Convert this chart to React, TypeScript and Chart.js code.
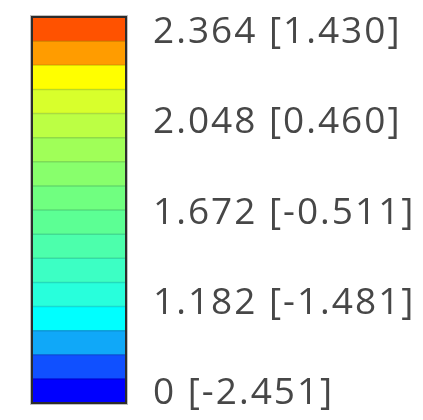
import React, { useEffect, useRef } from "react";
import { Chart, registerables } from "chart.js";

Chart.register(...registerables);

// Band colours, bottom to top
const bandColors = [
  "#0000FF",
  "#1050FF",
  "#10A8F8",
  "#00FFFF",
  "#28FFDC",
  "#3CFFC4",
  "#4CFFAC",
  "#5CFF94",
  "#70FF80",
  "#88FF6C",
  "#A0FF58",
  "#BCFF44",
  "#D8FF2C",
  "#FFFF00",
  "#FF9C00",
  "#FF5200",
];
const bandValues = bandColors.map(() => 1);

const legendValues = ["0", "1.182", "1.672", "2.048", "2.364"];
const bracketValues = ["-2.451", "-1.481", "-0.511", "0.460", "1.430"];
const labelPositions = [0.5, 4.25, 8, 11.75, 15.5];

export default function App() {
  const ref = useRef<HTMLCanvasElement | null>(null);

  useEffect(() => {
    const canvas = ref.current;
    if (!canvas) return;
    const borderPlugin = {
      id: "outerBorder",
      beforeDraw(chart: any) {
        chart.ctx.letterSpacing = "2px";
      },
      afterDatasetsDraw(chart: any) {
        const { ctx, chartArea } = chart;
        const y = chart.scales.y;
        ctx.save();
        ctx.letterSpacing = "0px";
        ctx.strokeStyle = "rgba(0,0,0,0.14)";
        ctx.lineWidth = 1.5;
        for (let i = 1; i < bandValues.length; i++) {
          const py = y.getPixelForValue(i);
          ctx.beginPath();
          ctx.moveTo(chartArea.left, py);
          ctx.lineTo(chartArea.right, py);
          ctx.stroke();
        }
        ctx.strokeStyle = "rgba(150,150,150,0.6)";
        ctx.lineWidth = 1;
        ctx.strokeRect(chartArea.left - 1.5, chartArea.top - 1.5, chartArea.right - chartArea.left + 3, chartArea.bottom - chartArea.top + 3);
        ctx.strokeStyle = "#2c2c2c";
        ctx.lineWidth = 2;
        ctx.strokeRect(chartArea.left, chartArea.top, chartArea.right - chartArea.left, chartArea.bottom - chartArea.top);
        ctx.restore();
      },
      afterDraw(chart: any) {
        chart.ctx.letterSpacing = "0px";
      },
    };
    const chart = new Chart(canvas, {
      type: "bar",
      data: {
        labels: ["scale"],
        datasets: bandColors.map((c, i) => ({
          label: "band" + i,
          data: [bandValues[i]],
          backgroundColor: c,
          borderWidth: 0,
          barPercentage: 1,
          categoryPercentage: 1,
        })),
      },
      options: {
        animation: false,
        responsive: false,
        maintainAspectRatio: false,
        events: [],
        layout: { padding: { left: 32, top: 17, bottom: 17, right: 0 } },
        plugins: { legend: { display: false }, tooltip: { enabled: false } },
        scales: {
          x: { stacked: true, display: false },
          y: {
            stacked: true,
            position: "right",
            min: 0,
            max: bandValues.length,
            grid: { display: false, drawTicks: false },
            border: { display: false },
            afterBuildTicks(scale: any) {
              scale.ticks = labelPositions.map((v) => ({ value: v }));
            },
            afterFit(scale: any) {
              scale.width = 297;
              scale.paddingTop = 0;
              scale.paddingBottom = 0;
            },
            ticks: {
              padding: 27,
              labelOffset: 3,
              autoSkip: false,
              color: "#474747",
              font: { family: "'Open Sans'", size: 37, weight: "normal" },
              callback: (value: any) => {
                const idx = labelPositions.indexOf(Number(value));
                if (idx < 0) return "";
                return legendValues[idx] + " [" + bracketValues[idx] + "]";
              },
            },
          },
        },
      },
      plugins: [borderPlugin],
    } as any);
    return () => chart.destroy();
  }, []);

  return (
    <div style={{ position: "fixed", left: 0, top: 0, width: 423, height: 420, background: "#fff" }}>
      <canvas ref={ref} width={423} height={420} style={{ width: 423, height: 420 }} />
    </div>
  );
}
